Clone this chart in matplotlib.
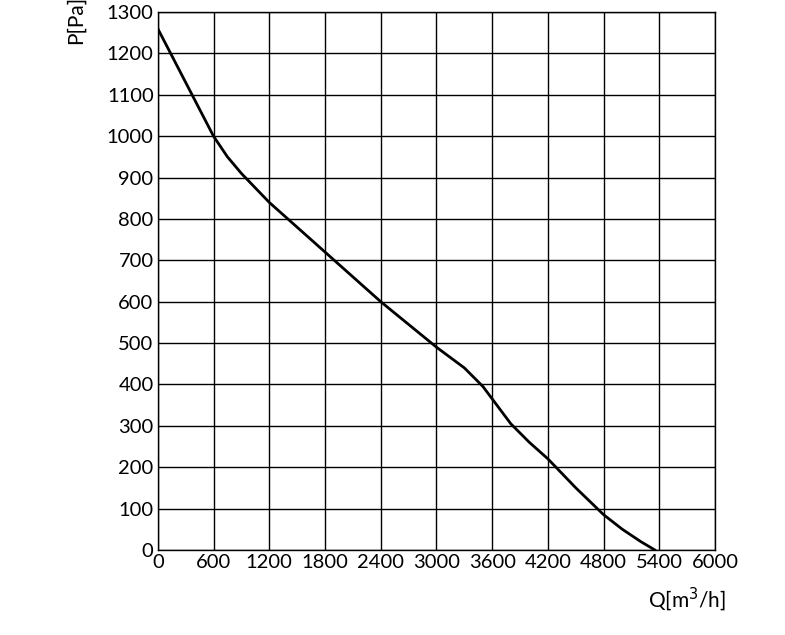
import numpy as np
import matplotlib
matplotlib.use("Agg")
import matplotlib.pyplot as plt

# curve
q = [0, 300, 600, 750, 900, 1200, 1500, 1800, 2100, 2400, 2700, 3000, 3300, 3500, 3650, 3800, 4000, 4200, 4500, 4800, 5000, 5200, 5350]
p = [1260, 1130, 1000, 950, 910, 840, 780, 720, 660, 600, 545, 490, 440, 395, 350, 305, 260, 220, 150, 85, 50, 20, 0]

plt.rcParams['font.family'] = ['Lato', 'DejaVu Sans']
fig = plt.figure(figsize=(7.85, 6.35), dpi=100)
ax = fig.add_axes([0.201, 0.134, 0.710, 0.847])

ax.plot(q, p, color='black', lw=2, solid_joinstyle='round')
ax.set_xlim(0, 6000)
ax.set_ylim(0, 1300)
ax.set_xticks(np.arange(0, 6001, 600))
ax.set_yticks(np.arange(0, 1301, 100))
ax.grid(True, color='black', lw=1)
for s in ax.spines.values():
    s.set_linewidth(1)
ax.tick_params(length=0, labelsize=14.5, pad=3)

ax.text(1.02, -0.065, 'Q[m$^3$/h]', transform=ax.transAxes, ha='right', va='top', fontsize=15)
ax.text(-0.165, 1.03, 'P[Pa]', transform=ax.transAxes, ha='left', va='top', rotation=90, fontsize=15)

fig.savefig('out.png', dpi=100)
